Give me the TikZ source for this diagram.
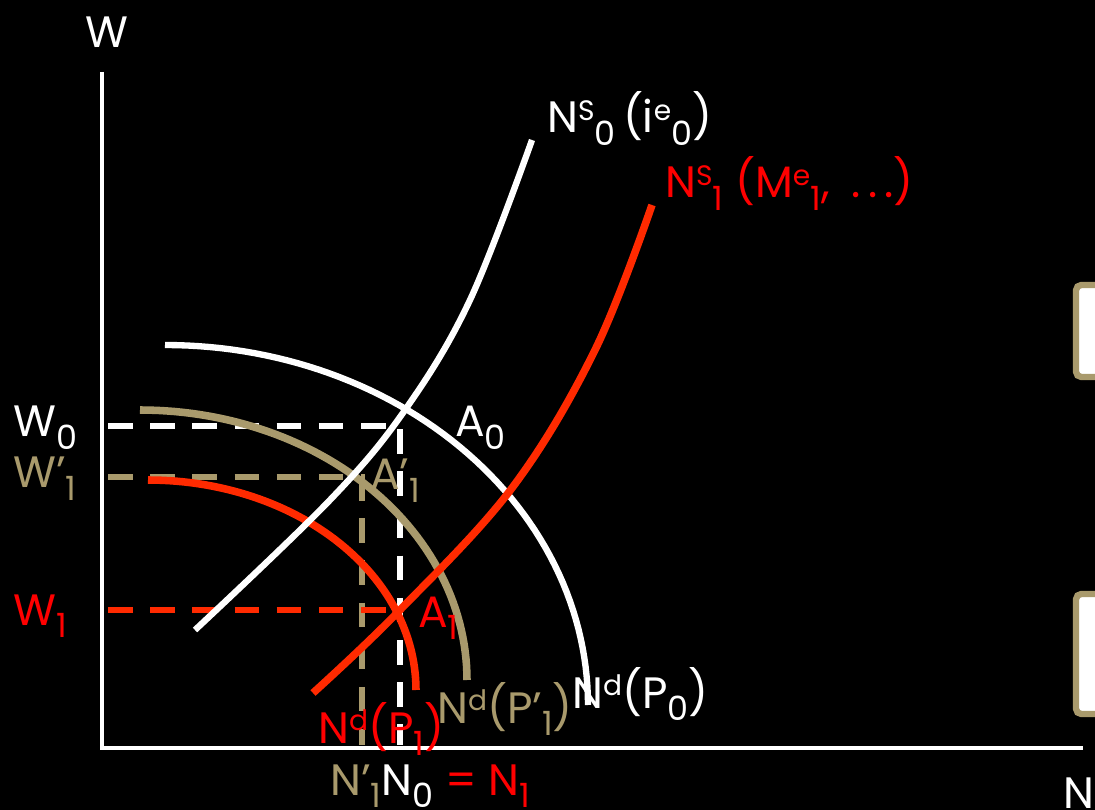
\documentclass[tikz,border=0pt]{standalone}
\usepackage{fontspec}
\setmainfont{Poppins}
\usepackage{tikz}
\usetikzlibrary{positioning}
\definecolor{shiftred}{HTML}{FF2A00}
\definecolor{labelred}{HTML}{FF0000}
\definecolor{goldtan}{HTML}{A99A6C}
\newcommand{\lo}[1]{\raisebox{-7pt}{\fontsize{19}{20}\selectfont #1}}
\newcommand{\hi}[1]{\raisebox{7pt}{\fontsize{16}{18}\selectfont #1}}

\begin{document}
\begin{tikzpicture}[
    x=0.02cm, y=-0.02cm,
    lbl/.style={inner sep=0pt, anchor=base west, font=\fontsize{25}{30}\selectfont},
    axisline/.style={white, line width=2.8pt},
    curve/.style={line width=3.6pt},
    thick curve/.style={line width=4.3pt},
    guide/.style={line width=3pt, dash pattern=on 14pt off 10pt},
    sidebox/.style={goldtan, line width=3.6pt, fill=white, rounded corners=3pt}
  ]
    \useasboundingbox (0,0) rectangle (1095,810);
    \fill[black] (0,0) rectangle (1095,810);
    \clip (0,0) rectangle (1095,810);

    % boxes cut off at the right edge
    \draw[sidebox] (1076,285) rectangle (1150,377);
    \draw[sidebox] (1076,594) rectangle (1150,714);

    % axes
    \draw[axisline] (102,72) -- (102,748) -- (1083,748);
    \node[lbl, white] (wlab) at (85,48) {W};
    \node[lbl, white] (nlab) at (1063,808) {N};

    % guide lines
    \draw[guide, white] (108,426) -- (400,426) -- (400,745);
    \draw[guide, goldtan] (108,477) -- (362,477) -- (362,745);
    \draw[guide, shiftred] (108,610) -- (398,610);

    % demand curves
    \draw[curve, white] plot[domain=90:0, samples=60]
      ({165+423*cos(\x)}, {705-360*sin(\x)});
    \draw[thick curve, goldtan] plot[domain=90:0, samples=60]
      ({140+327*cos(\x)}, {680-270*sin(\x)});
    \draw[thick curve, shiftred] plot[domain=90:0, samples=60]
      ({148+268*cos(\x)}, {690-210*sin(\x)});

    % supply curves
    \draw[curve, white] plot[smooth, tension=0.6] coordinates
      {(195,630) (330,500) (405,410) (470,300) (532,140)};
    \draw[thick curve, shiftred] plot[smooth, tension=0.6] coordinates
      {(313,693) (398,612) (512,488) (595,350) (652,205)};

    % labels on the axes
    \node[lbl, white] (w0) at (13,437) {W\lo{0}};
    \node[lbl, goldtan] (w1p) at (13,488) {W’\lo{1}};
    \node[lbl, labelred] (w1) at (13,625) {W\lo{1}};
    \node[lbl] (nbot) at (330,795)
      {{\color{goldtan}N'\lo{1}}{\color{white}N\lo{0}} {\color{labelred}= N\lo{1}}};

    % equilibrium points
    \node[lbl, white] (a0) at (455,437) {A\lo{0}};
    \node[lbl, goldtan] (a1p) at (370,490) {A’\lo{1}};
    \node[lbl, labelred] (a1) at (418,627) {A\lo{1}};

    % curve names
    \node[lbl, white] (ns0) at (547,133)
      {N\hi{S}\lo{0}\,(i\hi{e}\lo{0})};
    \node[lbl, labelred] (ns1) at (665,198)
      {N\hi{S}\lo{1} (M\hi{e}\lo{1},\enspace.\,.\,.)};
    \node[lbl, labelred] (nd1) at (318,743)
      {N\hi{d}(P\lo{1})};
    \node[lbl, goldtan] (nd1p) at (437,723)
      {N\hi{d}(P’\lo{1})};
    \node[lbl, white] (nd0) at (572,708)
      {N\hi{d}(P\lo{0})};
  \end{tikzpicture}
\end{document}
